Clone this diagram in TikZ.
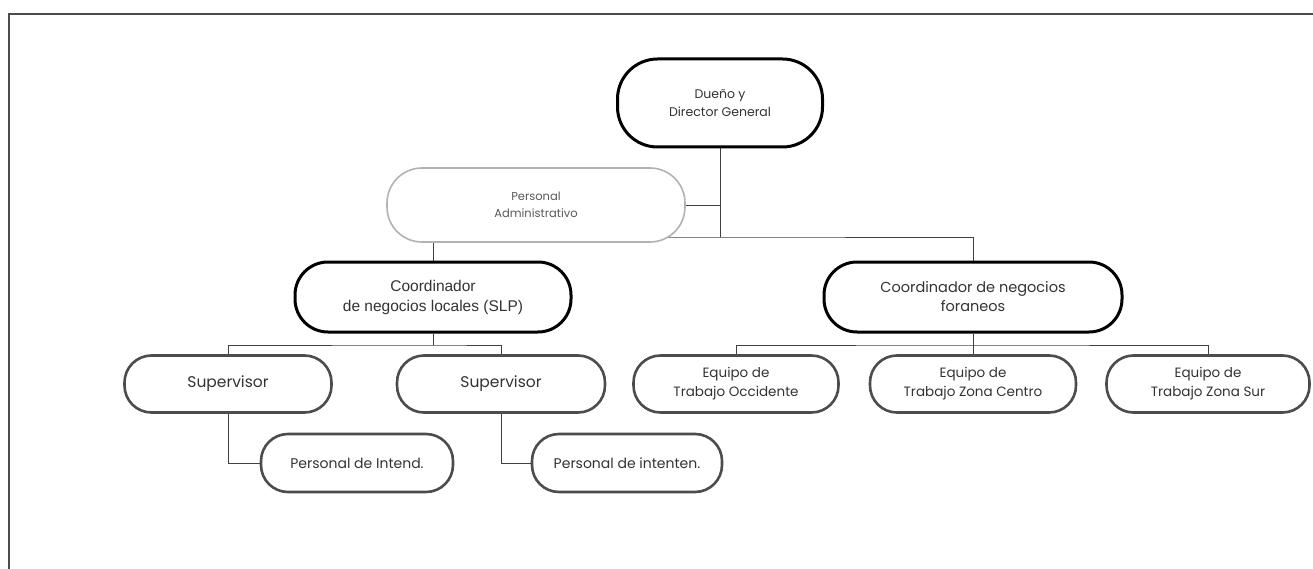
\documentclass[tikz,border=0pt]{standalone}
\usepackage{fontspec}
\usetikzlibrary{backgrounds}
\newfontfamily\pop{Poppins}
\newfontfamily\lib{Liberation Sans}
\begin{document}
\begin{tikzpicture}[x=1pt,y=-1pt,
  box/.style={rectangle, align=center, inner sep=0pt, fill=white, text=black!80},
  bossbox/.style={box, draw=black, line width=3pt, rounded corners=40pt},
  adminbox/.style={box, draw=black!30, line width=1.6pt, rounded corners=35pt, text=black!65},
  unitbox/.style={box, draw=black!70, line width=2.6pt, rounded corners=27pt},
  link/.style={draw=black!75, line width=0.9pt},
  frame/.style={draw=black!70, line width=1.4pt}
]
\useasboundingbox (0,0) rectangle (1313,569);
\draw[frame] (9,569) -- (9,14) -- (1313,14);

\node[bossbox, minimum width=205pt, minimum height=88pt, font=\pop\fontsize{12.5}{18}\selectfont] (dueno) at (720,103) {Dueño y\\Director General};
\node[adminbox, minimum width=298pt, minimum height=74pt, font=\pop\fontsize{11.5}{17}\selectfont] (admin) at (536,205) {Personal\\Administrativo};
\node[bossbox, minimum width=276pt, minimum height=70pt, rounded corners=33pt, font=\lib\fontsize{15.5}{20}\selectfont] (coordA) at (433,297) {Coordinador\\de negocios locales (SLP)};
\node[bossbox, minimum width=298pt, minimum height=70pt, rounded corners=33pt, font=\pop\fontsize{14.5}{19}\selectfont] (coordB) at (973,297) {Coordinador de negocios\\foraneos};

\node[unitbox, minimum width=207pt, minimum height=57pt, font=\pop\fontsize{15.5}{18}\selectfont] (sup1) at (228,384) {Supervisor};
\node[unitbox, minimum width=208pt, minimum height=57pt, font=\pop\fontsize{15.5}{18}\selectfont] (sup2) at (501,384) {Supervisor};

\node[unitbox, minimum width=192pt, minimum height=58pt, font=\pop\fontsize{14}{17}\selectfont] (pi1) at (357,463) {Personal de Intend.};
\node[unitbox, minimum width=190pt, minimum height=58pt, font=\pop\fontsize{14}{17}\selectfont] (pi2) at (627,463) {Personal de intenten.};

\node[unitbox, minimum width=205pt, minimum height=57pt, font=\pop\fontsize{13.5}{19}\selectfont] (eq1) at (736,384) {Equipo de\\Trabajo Occidente};
\node[unitbox, minimum width=206pt, minimum height=57pt, font=\pop\fontsize{13.5}{19}\selectfont] (eq2) at (973,384) {Equipo de\\Trabajo Zona Centro};
\node[unitbox, minimum width=203pt, minimum height=57pt, font=\pop\fontsize{13.5}{19}\selectfont] (eq3) at (1208,384) {Equipo de\\Trabajo Zona Sur};

\coordinate (bus1) at (720,237);
\coordinate (busA) at (433,345);
\coordinate (busB) at (973,345);

\begin{pgfonlayer}{background}
\draw[link] (dueno.south) -- (bus1);
\draw[link] (admin.east) -- (admin.east -| dueno.south);
\draw[link] (coordA.north) |- (bus1) -| (coordB.north);

\draw[link] (coordA.south) -- (busA);
\draw[link] (sup1.north) |- (busA) -| (sup2.north);

\draw[link] (coordB.south) -- (busB);
\draw[link] (eq1.north) |- (busB) -| (eq3.north);
\draw[link] (eq2.north) -- (busB);

\draw[link] (sup1.south) |- (pi1.west);
\draw[link] (sup2.south) |- (pi2.west);
\end{pgfonlayer}
\end{tikzpicture}
\end{document}
